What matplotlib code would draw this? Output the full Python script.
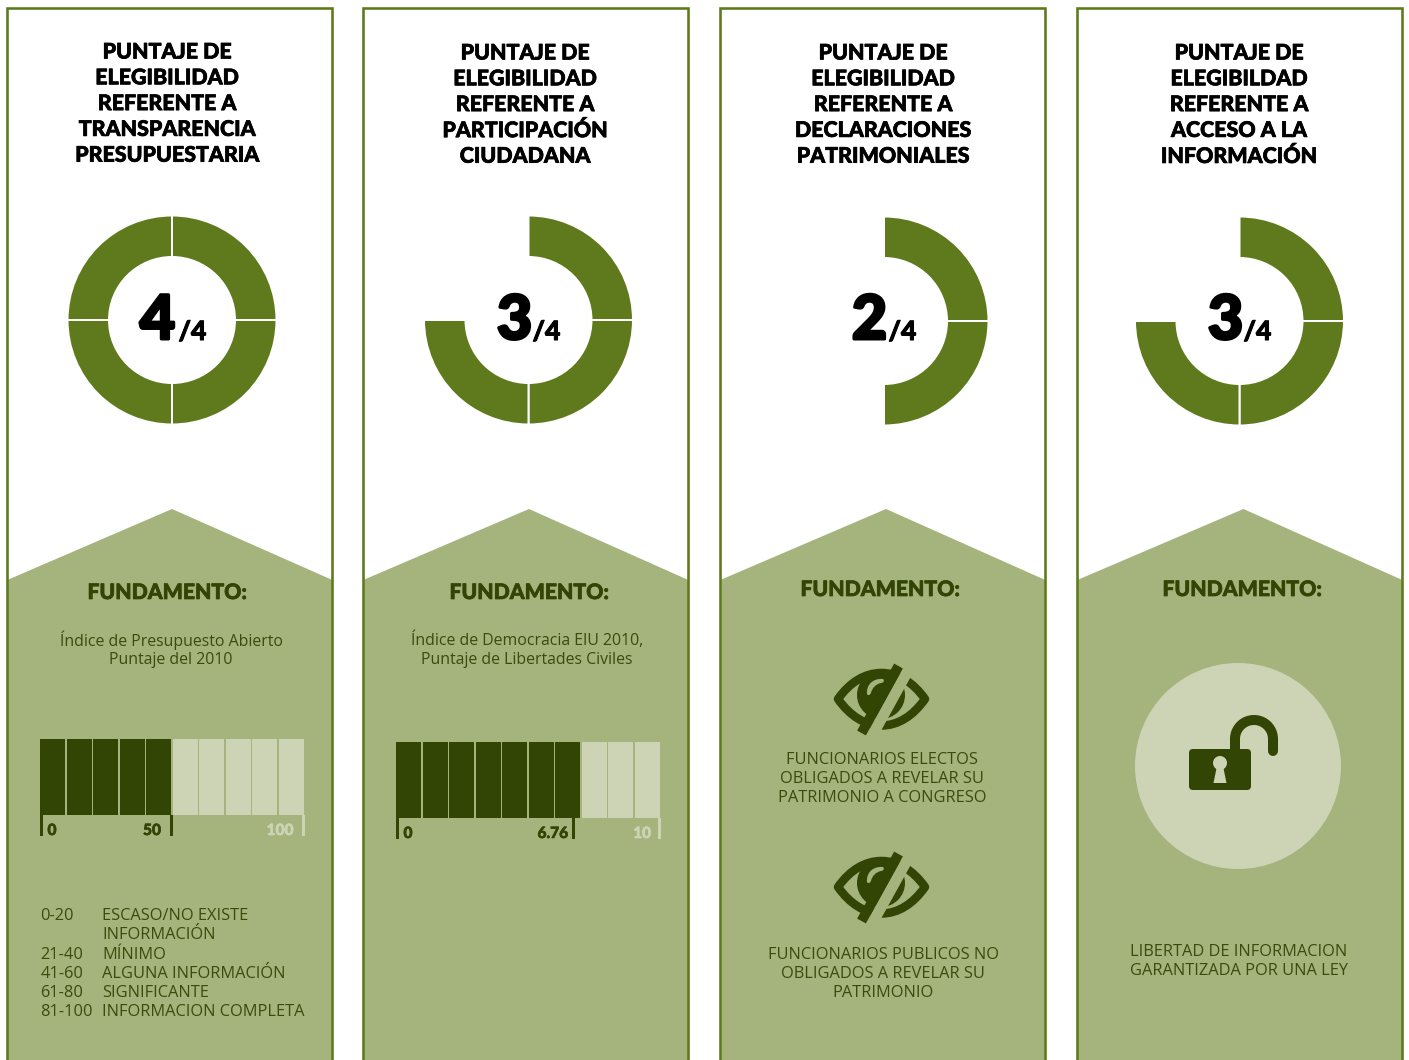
import matplotlib
matplotlib.use("Agg")
import matplotlib.pyplot as plt
import matplotlib.patheffects as pe
from matplotlib.patches import Polygon, Circle, PathPatch, FancyBboxPatch
from matplotlib.path import Path
import numpy as np

W, H = 1409, 1060
BORDER = "#5f7a1c"
FILL = "#a5b37c"
DARK = "#334504"
PALE = "#ccd4b5"
TEXT = "#3a4c0c"
BODY_FONT = "Open Sans"
HEAD_FONT = "Lato"

# Scores and copy for each column
scores = [4, 3, 2, 3]
titles = [
    ["PUNTAJE DE", "ELEGIBILIDAD", "REFERENTE A", "TRANSPARENCIA", "PRESUPUESTARIA"],
    ["PUNTAJE DE", "ELEGIBILIDAD", "REFERENTE A", "PARTICIPACIÓN", "CIUDADANA"],
    ["PUNTAJE DE", "ELEGIBILIDAD", "REFERENTE A", "DECLARACIONES", "PATRIMONIALES"],
    ["PUNTAJE DE", "ELEGIBILDAD", "REFERENTE A", "ACCESO A LA", "INFORMACIÓN"],
]
heading = "FUNDAMENTO:"
budget_cells_dark = 5
budget_cells_light = 5
budget_ticks = [0, 50, 100]
budget_tick_labels = ["0", "50", "100"]
liberty_cells_dark = 7
liberty_cells_light = 3
liberty_ticks = [0, 6.76, 10]
liberty_tick_labels = ["0", "6.76", "10"]
legend_ranges = ["0-20", "21-40", "41-60", "61-80", "81-100"]
legend_levels = ["ESCASO/NO EXISTE\nINFORMACIÓN", "MÍNIMO", "ALGUNA INFORMACIÓN",
                 "SIGNIFICANTE", "INFORMACION COMPLETA"]

fig = plt.figure(figsize=(W / 100, H / 100), dpi=100, facecolor="white")
bg = fig.add_axes([0, 0, 1, 1])
bg.set_xlim(0, W)
bg.set_ylim(H, 0)
bg.axis("off")


def px_axes(x0, y0, x1, y1):
    """Axes placed by pixel box, y measured from the top of the figure."""
    return fig.add_axes([x0 / W, 1 - y1 / H, (x1 - x0) / W, (y1 - y0) / H])


def pts(px):
    return px * 0.72


def label(x, y, s, size, color=TEXT, font=BODY_FONT, weight="normal", ha="center", heavy=0):
    t = bg.text(x, y, s, fontsize=pts(size), color=color, family=font, weight=weight,
                ha=ha, va="center", linespacing=1.0, zorder=10)
    if heavy:
        t.set_path_effects([pe.withStroke(linewidth=pts(heavy), foreground=color)])
    return t


def column_frame(left, right, apex):
    bg.add_patch(Polygon([(left, 580), (apex, 509), (right, 580), (right, H + 5), (left, H + 5)],
                         closed=True, fc=FILL, ec="none", zorder=1))
    bg.plot([left, left, right, right], [H + 5, 8, 8, H + 5], color=BORDER,
            lw=pts(2.6), solid_joinstyle="miter", zorder=2)


def donut(cx, cy, score):
    R = 104.5
    ax = px_axes(cx - R, cy - R, cx + R, cy + R)
    sizes = [1] * score + ([4 - score] if score < 4 else [])
    wedges, _ = ax.pie(sizes, startangle=90, counterclock=False, radius=1,
                       colors=[BORDER] * len(sizes),
                       wedgeprops=dict(width=41.5 / R, edgecolor="white", linewidth=pts(2.0)))
    for w in wedges[score:]:
        w.set_visible(False)
    ax.set_xlim(-1, 1)
    ax.set_ylim(-1, 1)
    ax.axis("off")


def score_bar(x0, y0, n_dark, n_light, ticks, tick_labels, scale_max, label_xs):
    n = n_dark + n_light
    cell_h = 76
    tick_h = 21
    ax = px_axes(x0, y0, x0 + 265, y0 + cell_h + tick_h)
    ax.set_xlim(0, n)
    ax.set_ylim(-tick_h, cell_h)
    ax.axis("off")
    ax.bar(np.arange(n_dark), cell_h, width=0.96, align="edge", color=DARK)
    ax.bar(np.arange(n_dark, n), cell_h, width=0.96, align="edge", color=PALE)
    tick_w = 3 / 26.5
    for i, t in enumerate(ticks):
        pos = t / scale_max * n
        width = tick_w if i == 0 else -tick_w
        ax.bar(pos, tick_h, bottom=-tick_h, width=width, align="edge",
               color=PALE if i == len(ticks) - 1 else DARK)
        label(label_xs[i], y0 + cell_h + 15, tick_labels[i], 15.5,
              color=PALE if i == len(ticks) - 1 else DARK, font=HEAD_FONT, weight="black", heavy=0.6)


def eye_icon(cx, cy):
    ox, oy = cx - 881.5, cy - 699
    shift = lambda p: [(x + ox, y + oy) for x, y in p]
    C = Path.CURVE4
    outline = shift([(838, 699), (850, 682), (865, 673), (881.5, 673), (898, 673), (913, 682),
                     (925, 699), (913, 716), (898, 725.5), (881.5, 725.5), (865, 725.5),
                     (850, 716), (838, 699), (838, 699)])
    codes = [Path.MOVETO] + [C] * 12 + [Path.CLOSEPOLY]
    bg.add_patch(PathPatch(Path(outline, codes), fc="none", ec=DARK, lw=pts(8.5),
                           joinstyle="round", zorder=5))
    bg.add_patch(Circle((cx - 0.5, cy - 4), 24, fc=DARK, ec="none", zorder=6))
    glint = shift([(867, 694), (866, 685), (873, 678), (883, 679), (885, 681), (883, 683),
                   (881, 683), (876, 684), (872, 688), (871, 693), (870, 695), (868, 696), (867, 694)])
    bg.add_patch(PathPatch(Path(glint, [Path.MOVETO] + [C] * 12), fc=FILL, ec="none", zorder=7))
    top, bottom = np.array([898.5 + ox, 666 + oy]), np.array([861.5 + ox, 733 + oy])
    d = (bottom - top) / np.linalg.norm(bottom - top)
    n = np.array([d[1], -d[0]])
    a, b = top + n * 10.5 - d * 4, bottom + n * 10.5 + d * 6
    bg.plot([a[0], b[0]], [a[1], b[1]], color=FILL, lw=pts(11), solid_capstyle="butt", zorder=8)
    bg.plot([top[0], bottom[0]], [top[1], bottom[1]], color=DARK, lw=pts(10),
            solid_capstyle="butt", zorder=9)


def lock_icon(cx, cy):
    bg.add_patch(Circle((cx, cy), 103, fc=PALE, ec="none", zorder=5))
    t = np.linspace(np.pi, 0, 60)
    xs = np.r_[1235, 1254 + 19 * np.cos(t), 1273]
    ys = np.r_[752, 739 - 19 * np.sin(t), 751]
    bg.plot(xs, ys, color=DARK, lw=pts(10), solid_capstyle="round", zorder=6)
    bg.add_patch(FancyBboxPatch((1193, 753), 54, 33, boxstyle="round,pad=4", fc=DARK, ec="none", zorder=7))
    bg.add_patch(Circle((1220, 763), 7, fc=PALE, ec="none", zorder=8))
    bg.add_patch(Polygon([(1217, 766), (1223, 766), (1226.5, 783), (1213.5, 783)], fc=PALE, ec="none", zorder=8))


frames = [(7.3, 332.3, 172), (363.3, 688.3, 529), (720.3, 1045.3, 886), (1077.3, 1402.3, 1243.5)]
title_x = [167, 525, 883, 1239]
title_y0 = [52, 53, 53, 53]
donut_c = [(172, 320), (528.5, 320), (884, 321), (1239.5, 321)]
big_x = [157.5, 514.5, 869.5, 1225.5]
frac_x = [192.5, 546.5, 902.5, 1257.5]
head_pos = [(167, 592.5), (529, 592.5), (880, 589.5), (1242, 589.5)]

for i in range(4):
    column_frame(*frames[i])
    for j, line in enumerate(titles[i]):
        label(title_x[i], title_y0[i] + j * 25.8, line, 21.4, color="black", font=HEAD_FONT,
              weight="black", heavy=0.7)
    donut(*donut_c[i], scores[i])
    for x, y, s, size, heavy in [(big_x[i], 339, str(scores[i]), 61, 3.0), (frac_x[i], 340, "/4", 26.5, 1.0)]:
        t = bg.text(x, y, s, fontsize=pts(size), family=HEAD_FONT, weight="black",
                    color="black", ha="center", va="baseline", zorder=10)
        t.set_path_effects([pe.withStroke(linewidth=pts(heavy), foreground="black")])
    label(*head_pos[i], heading, 21.2, color=DARK, font=HEAD_FONT, weight="black", heavy=0.7)

# First column: budget index
label(171, 640, "Índice de Presupuesto Abierto", 15.9)
label(171, 659.5, "Puntaje del 2010", 15.9)
score_bar(40, 739, budget_cells_dark, budget_cells_light, budget_ticks, budget_tick_labels, 100, [52, 152, 280])
legend_y = [916, 955, 974, 993, 1012]
for r, lv, y in zip(legend_ranges, legend_levels, legend_y):
    label(40.5, y, r, 16.4, ha="left")
    for k, part in enumerate(lv.split("\n")):
        label(102, y + k * 19, part, 16.4, ha="left")

# Second column: civil liberties index
label(527, 640, "Índice de Democracia EIU 2010,", 15.9)
label(527, 659.5, "Puntaje de Libertades Civiles", 15.9)
score_bar(396, 742, liberty_cells_dark, liberty_cells_light, liberty_ticks, liberty_tick_labels, 10, [408, 553, 642])

# Third column: disclosure rules
eye_icon(881.5, 699)
for y, s in zip([760, 779, 798], ["FUNCIONARIOS ELECTOS", "OBLIGADOS A REVELAR SU", "PATRIMONIO A CONGRESO"]):
    label(882, y, s, 16.4)
eye_icon(881.5, 887)
for y, s in zip([955, 974, 993], ["FUNCIONARIOS PUBLICOS NO", "OBLIGADOS A REVELAR SU", "PATRIMONIO"]):
    label(883, y, s, 16.4)

# Fourth column: access to information
lock_icon(1238, 766)
for y, s in zip([952, 971], ["LIBERTAD DE INFORMACION", "GARANTIZADA POR UNA LEY"]):
    label(1239, y, s, 16.4)

fig.savefig("out.png", dpi=100, facecolor="white")
